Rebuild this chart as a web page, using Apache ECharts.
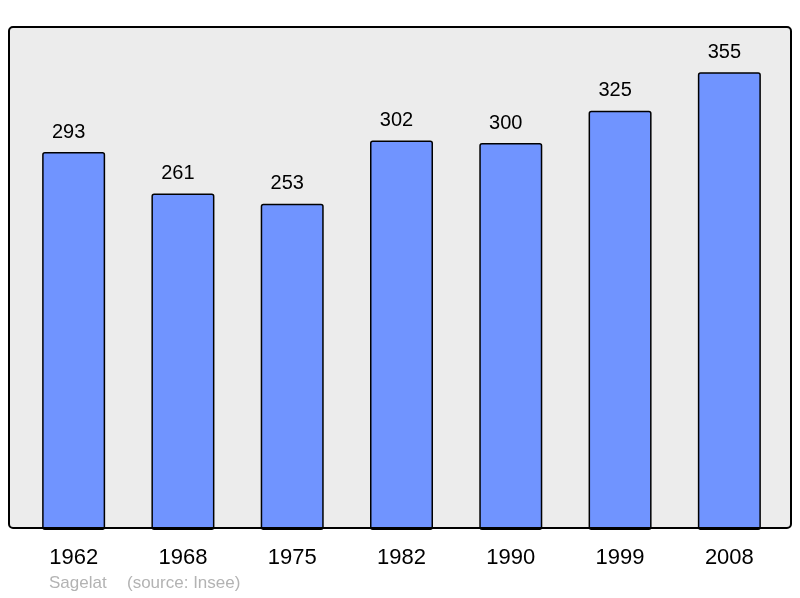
<!DOCTYPE html>
<html><head><meta charset="utf-8">
<script src="https://cdn.jsdelivr.net/npm/echarts@6/dist/echarts.min.js"></script>
<style>html,body{margin:0;padding:0;background:#fff}#c{width:800px;height:598px}</style>
</head><body><div id="c"></div>
<script>
const categories = ['1962','1968','1975','1982','1990','1999','2008'];
const population = [293, 261, 253, 302, 300, 325, 355];
const commune = 'Sagelat';
const source = '(source: Insee)';

const chart = echarts.init(document.getElementById('c'), null, {renderer:'canvas'});
chart.setOption({
  animation: false,
  backgroundColor: '#ffffff',
  grid: {left: 19, right: 16, top: 27, bottom: 68, containLabel: false},
  xAxis: {
    type: 'category', data: categories,
    axisLine: {show: false}, axisTick: {show: false},
    axisLabel: {fontSize: 22, color: '#000', fontFamily: 'Liberation Sans, Arial, sans-serif', margin: 17}
  },
  yAxis: {type: 'value', min: 0, max: 390, show: false, splitLine: {show: false}},
  graphic: [
    {type: 'rect', z: -10, shape: {x: 9, y: 27, width: 782, height: 501, r: 4},
     style: {fill: '#ececec', stroke: null}},
    {type: 'rect', z: 100, shape: {x: 9, y: 27, width: 782, height: 501, r: 4},
     style: {fill: null, stroke: '#000', lineWidth: 2}},
    {type: 'text', left: 49, top: 575, z: 100,
     style: {text: commune, fill: '#b3b3b3', font: '17px Liberation Sans, Arial, sans-serif'}},
    {type: 'text', left: 127, top: 575, z: 100,
     style: {text: source, fill: '#b3b3b3', font: '17px Liberation Sans, Arial, sans-serif'}}
  ],
  series: [{
    type: 'bar', data: population, barWidth: 63,
    itemStyle: {color: '#7094ff', borderColor: '#000', borderWidth: 1.5, borderRadius: 2},
    label: {show: true, position: 'top', distance: 10, offset: [-5, 0], fontSize: 20, color: '#000',
            fontFamily: 'Liberation Sans, Arial, sans-serif'}
  }]
});
</script></body></html>
